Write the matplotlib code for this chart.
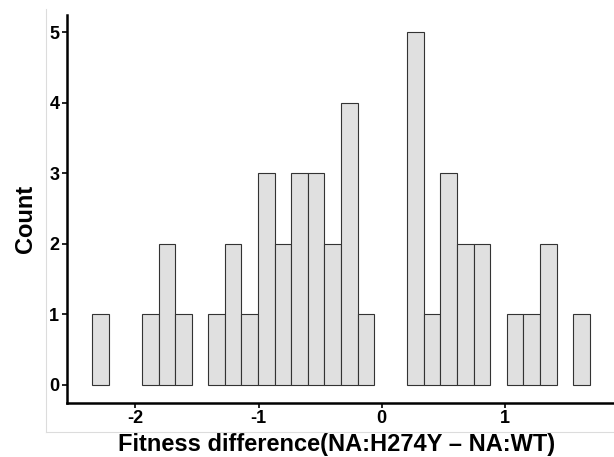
import matplotlib.pyplot as plt
import numpy as np
from matplotlib.lines import Line2D

# histogram of fitness differences, 30 equal-width bins
bin_start = -2.35
bin_width = 0.1346
counts = [1, 0, 0, 1, 2, 1, 0, 1, 2, 1,
          3, 2, 3, 3, 2, 4, 1, 0, 0, 5,
          1, 3, 2, 2, 0, 1, 1, 2, 0, 1]
x_ticks = [-2, -1, 0, 1]
y_ticks = [0, 1, 2, 3, 4, 5]

plt.rcParams['font.family'] = ['Liberation Sans', 'DejaVu Sans']
plt.rcParams['font.weight'] = 'bold'
plt.rcParams['axes.unicode_minus'] = False

fig = plt.figure(figsize=(6.14, 4.57), dpi=100)
ax = fig.add_axes([0.109, 0.119, 0.891, 0.849])

counts = np.array(counts)
lefts = bin_start + bin_width * np.arange(len(counts))
keep = counts > 0
ax.bar(lefts[keep], counts[keep], width=bin_width, align='edge',
       color='#e0e0e0', edgecolor='#333333', linewidth=0.8)

ax.set_xlim(-2.555, 1.885)
ax.set_ylim(-0.25, 5.25)
ax.set_xticks(x_ticks)
ax.set_yticks(y_ticks)

for side in ['top', 'right']:
    ax.spines[side].set_visible(False)
for side in ['left', 'bottom']:
    ax.spines[side].set_linewidth(1.8)
    ax.spines[side].set_color('black')
ax.tick_params(axis='both', length=3.5, width=1.2, color='black',
               labelsize=13, labelcolor='black', pad=2)
for lab in ax.get_xticklabels() + ax.get_yticklabels():
    lab.set_fontweight('bold')

ax.set_xlabel('Fitness difference(NA:H274Y \u2013 NA:WT)', fontsize=17,
              fontweight='bold')
ax.set_ylabel('Count', fontsize=17, fontweight='bold')
ax.xaxis.set_label_coords(0.492, -0.078)
ax.yaxis.set_label_coords(-0.055, 0.473)

# faint frame around the panel
fig.add_artist(Line2D([45.5 / 614, 45.5 / 614], [1 - 9 / 457, 1 - 431.5 / 457],
                      transform=fig.transFigure, color='#dcdcdc', lw=0.8))
fig.add_artist(Line2D([45.5 / 614, 1.0], [1 - 431.5 / 457, 1 - 431.5 / 457],
                      transform=fig.transFigure, color='#dcdcdc', lw=0.8))

fig.savefig('out.png', dpi=100)
